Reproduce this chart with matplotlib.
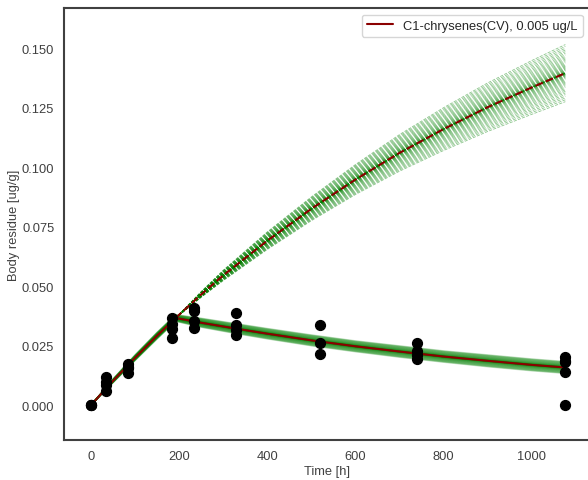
import numpy as np
import matplotlib.pyplot as plt
import seaborn as sns

sns.set_style("white")
plt.rcParams["font.family"] = ["Liberation Sans", "DejaVu Sans"]

# observed body residues
t_obs = [0, 0, 0,
         34, 34, 34, 34,
         83, 83, 83, 83,
         184, 184, 184, 184,
         234, 234, 234, 234,
         330, 330, 330, 330,
         519, 519, 519,
         739, 739, 739, 739,
         1076, 1076, 1076, 1076, 1076]
c_obs = [0.0, 0.0, 0.0,
         0.0119, 0.0095, 0.0085, 0.0061,
         0.0172, 0.0162, 0.0154, 0.0135,
         0.0364, 0.0340, 0.0319, 0.0284,
         0.0410, 0.0396, 0.0354, 0.0326,
         0.0387, 0.0336, 0.0316, 0.0295,
         0.0337, 0.0263, 0.0214,
         0.0263, 0.0228, 0.0210, 0.0193,
         0.0200, 0.0185, 0.0179, 0.0137, 0.0]

# model: uptake phase
t_up = [0, 50, 100, 150, 192]
c_up = [0.0, 0.0102, 0.0199, 0.0292, 0.0366]
w_up = [0.0, 0.0008, 0.0012, 0.0014, 0.0014]

# model: depuration phase
t_dep = [192, 250, 330, 400, 500, 600, 700, 800, 900, 1000, 1076]
c_dep = [0.0366, 0.0346, 0.0321, 0.0300, 0.0272, 0.0247, 0.0225, 0.0204, 0.0186, 0.0169, 0.0158]
w_dep = [0.0014, 0.0019, 0.0021, 0.0022, 0.0023, 0.0023, 0.0024, 0.0024, 0.0025, 0.0025, 0.0025]

# model: continued exposure
t_ext = [192, 250, 300, 400, 500, 600, 700, 800, 900, 1000, 1076]
c_ext = [0.0366, 0.0465, 0.0545, 0.0691, 0.0825, 0.0948, 0.1060, 0.1160, 0.1252, 0.1335, 0.1395]
w_ext = [0.0, 0.0012, 0.0022, 0.0037, 0.0050, 0.0063, 0.0077, 0.0090, 0.0102, 0.0113, 0.0120]

label = "C1-chrysenes(CV), 0.005 ug/L"

fig = plt.figure(figsize=(5.88, 4.81), dpi=100)
ax = fig.add_axes([0.109, 0.083, 0.893, 0.898])

# ensemble of model runs, denser toward the middle
u = np.linspace(-1, 1, 61)
q = np.sign(u) * u**2
for f in q:
    ax.plot(t_up, np.array(c_up) + f * np.array(w_up), color="green", lw=1.0, alpha=0.22)
    ax.plot(t_dep, np.array(c_dep) + f * np.array(w_dep), color="green", lw=1.0, alpha=0.22)
    ax.plot(t_ext, np.array(c_ext) + f * np.array(w_ext), color="green", lw=0.6,
            ls="--", alpha=0.45)

ax.plot(t_up + t_dep[1:], c_up + c_dep[1:], color="darkred", lw=1.5, label=label)
ax.plot(t_ext, c_ext, color="darkred", lw=1.5, ls="--")
ax.scatter(t_obs, c_obs, s=50, color="black", zorder=5)

ax.set_xlim(-61, 1130)
ax.set_ylim(-0.0147, 0.1668)
ax.set_yticks([0.0, 0.025, 0.05, 0.075, 0.1, 0.125, 0.15])
ax.set_yticklabels(["0.000", "0.025", "0.050", "0.075", "0.100", "0.125", "0.150"])
ax.tick_params(labelsize=9.3, colors=".25")
ax.set_xlabel("Time [h]", fontsize=9.3, color=".25", labelpad=2)
ax.set_ylabel("Body residue [ug/g]", fontsize=9.3, color=".25", labelpad=1)
for s in ax.spines.values():
    s.set_color(".25")
    s.set_linewidth(1.5)
ax.legend(loc="upper right", fontsize=9.3, frameon=True)

fig.savefig("out.png", dpi=100)
